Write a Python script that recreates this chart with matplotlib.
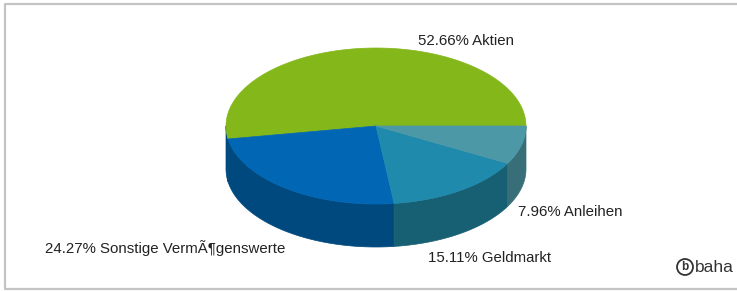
import matplotlib
matplotlib.use("Agg")
import numpy as np
import matplotlib.pyplot as plt
from matplotlib.patches import Polygon, Circle

plt.rcParams.update({"font.family": ["Liberation Sans", "DejaVu Sans"], "font.size": 10})

# data
labels = ["Aktien", "Sonstige VermÃ¶genswerte", "Geldmarkt", "Anleihen"]
shares = [52.66, 24.27, 15.11, 7.96]
top_colors = ["#84b71a", "#0166b3", "#1f8aab", "#4c98a7"]
side_colors = ["#00497f", "#00497f", "#175f72", "#386e77"]
label_pos = [(418, 41), (45, 248), (428, 258), (518, 212)]

W, H = 737, 291
fig = plt.figure(figsize=(W / 100, H / 100), dpi=100)
ax = fig.add_axes([0, 0, 1, 1])
ax.set_xlim(0, W); ax.set_ylim(H, 0); ax.axis("off")

# outer frame (right edge cut off)
ax.plot([W + 5, 5.5, 5.5, W + 5], [3.5, 3.5, 289, 289], color="#c4c4c4", lw=1.6)

cx, cy, rx, ry, depth = 376, 126, 150, 78, 43

def arc(a0, a1, n=80):
    t = np.radians(np.linspace(a0, a1, n))
    return cx + rx * np.cos(t), cy - ry * np.sin(t)

frac = np.array(shares) / sum(shares)
bounds = np.concatenate([[0], np.cumsum(frac) * 360])

# side walls (front half only)
for i in range(len(shares)):
    a0, a1 = max(bounds[i], 180), min(bounds[i + 1], 360)
    if a1 <= a0:
        continue
    xs, ys = arc(a0, a1)
    pts = np.column_stack([np.concatenate([xs, xs[::-1]]),
                           np.concatenate([ys, ys[::-1] + depth])])
    ax.add_patch(Polygon(pts, closed=True, facecolor=side_colors[i], edgecolor=side_colors[i], lw=0.5))

# top faces
for i in range(len(shares)):
    xs, ys = arc(bounds[i], bounds[i + 1])
    pts = np.column_stack([np.concatenate([[cx], xs]), np.concatenate([[cy], ys])])
    ax.add_patch(Polygon(pts, closed=True, facecolor=top_colors[i], edgecolor=top_colors[i], lw=0.5))

for (x, y), s, lab in zip(label_pos, shares, labels):
    ax.text(x, y, f"{s:.2f}% {lab}", ha="left", va="center", fontsize=10.8, color="#222222")

# baha logo
ax.add_patch(Circle((685, 267), 8, facecolor="none", edgecolor="#333333", lw=1.3))
ax.text(685, 267.5, "b", ha="center", va="center", fontsize=8.5, fontweight="bold", color="#333333")
ax.text(695, 267, "baha", ha="left", va="center", fontsize=12.5, color="#333333")

fig.savefig("out.png", dpi=100, facecolor="white")
